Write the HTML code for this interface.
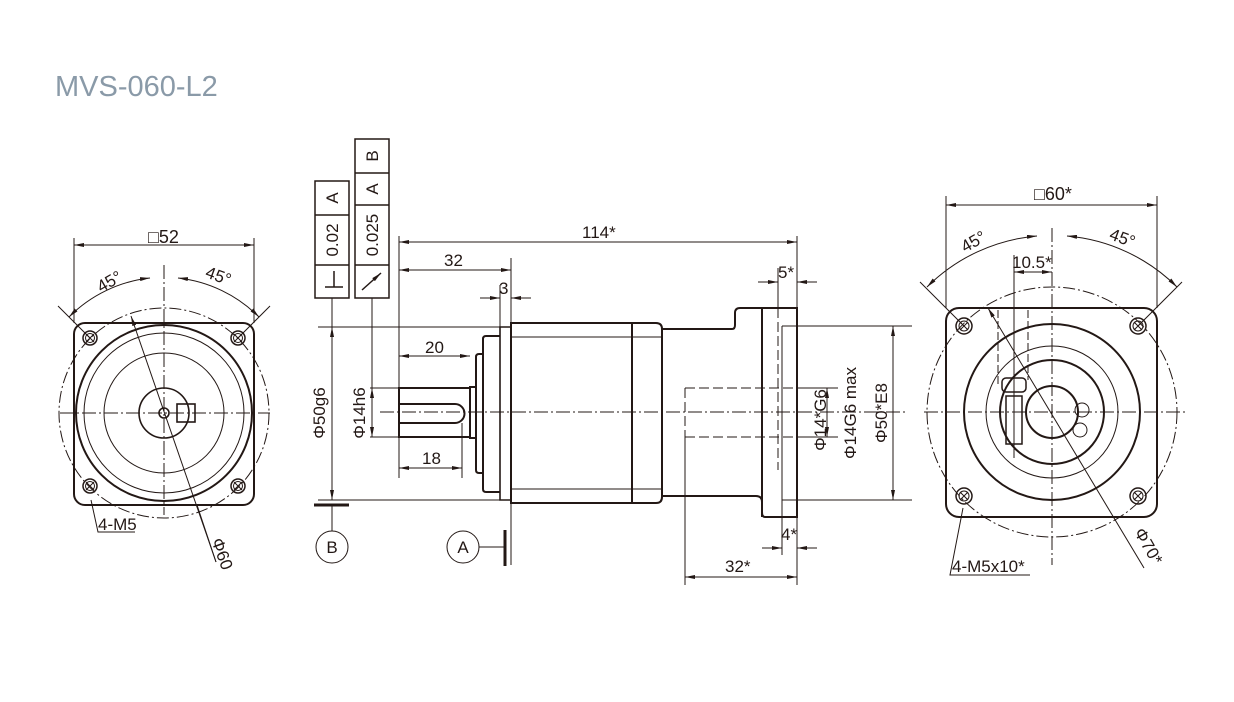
<!DOCTYPE html>
<html><head><meta charset="utf-8"><style>
html,body{margin:0;padding:0;background:#fff;width:1234px;height:702px;overflow:hidden}
svg{position:absolute;left:0;top:0}
text{font-family:"Liberation Sans Narrow","Liberation Sans",sans-serif;fill:#231815}
</style></head><body>
<svg width="1234" height="702" viewBox="0 0 1234 702">
<defs>
<marker id="a" viewBox="0 0 10 4" refX="10" refY="2" markerWidth="10" markerHeight="4" orient="auto-start-reverse" markerUnits="userSpaceOnUse"><path d="M0,0L10,2L0,4z" fill="#231815"/></marker>
</defs>
<text x="55" y="96" style="font-family:'Liberation Sans',sans-serif;font-size:29px;fill:#8a9aa8">MVS-060-L2</text>

<g fill="none" stroke="#231815" stroke-width="1">
<!-- LEFT VIEW -->
<rect x="74" y="323" width="180" height="182" rx="11" stroke-width="2"/>
<circle cx="164" cy="413" r="88" stroke-width="2"/>
<circle cx="164" cy="413" r="80"/>
<circle cx="164" cy="413" r="60"/>
<circle cx="164" cy="413" r="25" stroke-width="1.6"/>
<circle cx="164" cy="413" r="5" stroke-width="1.6"/>
<rect x="177" y="404" width="18" height="18" stroke-width="1.6"/>
<circle cx="164" cy="413" r="105" stroke-dasharray="12,3,2,3"/>
<g stroke-width="1.5">
<circle cx="90" cy="338" r="7"/><circle cx="238" cy="338" r="7"/><circle cx="90" cy="486" r="7"/><circle cx="238" cy="486" r="7"/>
</g>
<circle cx="90" cy="338" r="4.5"/><circle cx="238" cy="338" r="4.5"/><circle cx="90" cy="486" r="4.5"/><circle cx="238" cy="486" r="4.5"/>
<path d="M86,334l8,8M94,334l-8,8M234,334l8,8M242,334l-8,8M86,482l8,8M94,482l-8,8M234,482l8,8M242,482l-8,8"/>
<path d="M60,413H270M164,265V515" stroke-dasharray="14,3,2,3"/>
<path d="M74,323V238M254,323V238"/>
<path d="M74,245H254" marker-start="url(#a)" marker-end="url(#a)"/>
<path d="M69,317A135,135 0 0 1 150,278" marker-start="url(#a)" marker-end="url(#a)"/>
<path d="M178,278A135,135 0 0 1 259,317" marker-start="url(#a)" marker-end="url(#a)"/>
<path d="M90,338L58,306M238,338L270,306"/>
<path d="M131,316L216,562" marker-start="url(#a)"/>
<path d="M197,505L216,562" />
<path d="M91,500L98,532H135"/>

<!-- MIDDLE VIEW -->
<g stroke-width="2">
<path d="M511,323H656Q662,323 662,329V497Q662,503 656,503H511Z"/>
<path d="M632,323V503"/>
<path d="M511,327V500H500V327Z" stroke-width="1.6"/>
<path d="M500,336H486Q483,336 483,339V489Q483,492 486,492H500"/>
<path d="M483,354H479Q476,354 476,357V470Q476,473 479,473H483"/>
<path d="M476,387H470V438H476"/>
<path d="M470,388H399V437H470"/>
<path d="M400,404H455A9.5,9.5 0 0 1 455,423H400"/>
<path d="M662,329H732Q735,329 735,325V313Q735,308 740,308H797V517H765Q762,517 762,512V502Q762,496 756,496H662"/>
<path d="M762,308V517"/>
</g>
<path d="M511,337H632M511,489H632M632,337H662M632,489H662"/>
<path d="M782,326H797M782,500H797M782,326V500"/>
<path d="M778,308V470" stroke-dasharray="10,4"/>
<path d="M685,388H797M685,437H797M685,388V437" stroke-dasharray="10,4"/>
<path d="M380,412H905" stroke-dasharray="14,3,2,3"/>
<!-- dims -->
<path d="M399,236V388M797,236V308M511,258V565M500,285V327M685,437V585M797,517V585M778,268V308M782,500V555"/>
<path d="M399,242H797" marker-start="url(#a)" marker-end="url(#a)"/>
<path d="M399,270H511" marker-start="url(#a)" marker-end="url(#a)"/>
<path d="M480,298H500" marker-end="url(#a)"/><path d="M531,298H511" marker-end="url(#a)"/>
<path d="M758,282H778" marker-end="url(#a)"/><path d="M817,282H797" marker-end="url(#a)"/>
<path d="M762,548H782" marker-end="url(#a)"/><path d="M817,548H797" marker-end="url(#a)"/>
<path d="M685,577H797" marker-start="url(#a)" marker-end="url(#a)"/>
<path d="M399,356H470" marker-start="url(#a)" marker-end="url(#a)"/>
<path d="M399,437V478M462,423V478"/>
<path d="M399,468H462" marker-start="url(#a)" marker-end="url(#a)"/>
<path d="M797,326H912M797,500H912"/>
<path d="M893,326V500" marker-start="url(#a)" marker-end="url(#a)"/>
<path d="M797,388H838M797,437H838"/>
<path d="M827,388V437" marker-start="url(#a)" marker-end="url(#a)"/>
<path d="M318,327H500M318,500H500"/>
<path d="M332,298V500" marker-end="url(#a)"/>
<path d="M332,327V500" marker-start="url(#a)"/>
<path d="M370,388H399M370,437H399"/>
<path d="M372,298V437" marker-end="url(#a)"/>
<path d="M372,388V437" marker-start="url(#a)"/>
<!-- FCF -->
<rect x="315" y="181" width="34" height="117" stroke-width="1.5"/>
<path d="M315,215H349M315,265H349" stroke-width="1.5"/>
<rect x="355" y="139" width="34" height="159" stroke-width="1.5"/>
<path d="M355,173H389M355,205H389M355,265H389" stroke-width="1.5"/>
<path d="M325,287H343M334,287V271" stroke-width="1.5"/>
<path d="M362,290L381,273" stroke-width="1.5" marker-end="url(#a)"/>
<!-- datums -->
<path d="M314,505H349M505,530V566" stroke-width="3"/>
<path d="M332,505V531M479,547H505"/>
<circle cx="332" cy="547" r="16"/>
<circle cx="463" cy="547" r="16"/>

<!-- RIGHT VIEW -->
<rect x="946" y="308" width="211" height="209" rx="13" stroke-width="2"/>
<circle cx="1052" cy="412" r="88" stroke-width="2"/>
<circle cx="1052" cy="412" r="66"/>
<circle cx="1052" cy="412" r="52" stroke-width="2"/>
<circle cx="1052" cy="412" r="26" stroke-width="2"/>
<circle cx="1082" cy="410" r="7"/><circle cx="1080" cy="430" r="7"/>
<circle cx="1052" cy="412" r="125" stroke-dasharray="12,3,2,3"/>
<g stroke-width="1.5"><circle cx="964" cy="326" r="8"/><circle cx="1138" cy="326" r="8"/><circle cx="964" cy="496" r="8"/><circle cx="1138" cy="496" r="8"/></g>
<circle cx="964" cy="326" r="5"/><circle cx="1138" cy="326" r="5"/><circle cx="964" cy="496" r="5"/><circle cx="1138" cy="496" r="5"/>
<path d="M960,322l8,8M968,322l-8,8M1134,322l8,8M1142,322l-8,8M960,492l8,8M968,492l-8,8M1134,492l8,8M1142,492l-8,8"/>
<path d="M924,412H1185M1052,228V565" stroke-dasharray="14,3,2,3"/>
<path d="M998,310V385M1028,310V380" stroke-dasharray="8,3"/>
<rect x="1006" y="396" width="16" height="48" stroke-width="1.5"/>
<rect x="1002" y="378" width="24" height="14" rx="4" stroke-width="1.5"/>
<path d="M1014,255V458"/>
<path d="M946,308V196M1157,308V196"/>
<path d="M946,205H1157" marker-start="url(#a)" marker-end="url(#a)"/>
<path d="M1014,272H1052" marker-start="url(#a)" marker-end="url(#a)"/>
<path d="M927,287A177,177 0 0 1 1037,236" marker-start="url(#a)" marker-end="url(#a)"/>
<path d="M1067,236A177,177 0 0 1 1177,287" marker-start="url(#a)" marker-end="url(#a)"/>
<path d="M964,326L920,282M1138,326L1182,282"/>
<path d="M988,308L1144,568" marker-start="url(#a)"/>
<path d="M963,508L950,575H1030" />
</g>

<g font-size="17">
<text x="148" y="243" font-size="18">□52</text>
<text x="96" y="290" transform="rotate(-30 104 282)">45°</text>
<text x="206" y="280" transform="rotate(20 214 274)">45°</text>
<text x="98" y="530">4-M5</text>
<text x="206" y="548" transform="rotate(70 214 548)">Φ60</text>
<text x="582" y="238">114*</text>
<text x="444" y="266">32</text>
<text x="499" y="294">3</text>
<text x="425" y="353">20</text>
<text x="422" y="464">18</text>
<text x="778" y="278">5*</text>
<text x="781" y="540">4*</text>
<text x="725" y="572">32*</text>
<text x="325" y="413" transform="rotate(-90 325 413)" text-anchor="middle">Φ50g6</text>
<text x="365" y="413" transform="rotate(-90 365 413)" text-anchor="middle">Φ14h6</text>
<text x="826" y="420" transform="rotate(-90 826 420)" text-anchor="middle">Φ14*G6</text>
<text x="856" y="413" transform="rotate(-90 856 413)" text-anchor="middle">Φ14G6 max</text>
<text x="887" y="413" transform="rotate(-90 887 413)" text-anchor="middle">Φ50*E8</text>
<text x="338" y="198" transform="rotate(-90 338 198)" text-anchor="middle">A</text>
<text x="338" y="240" transform="rotate(-90 338 240)" text-anchor="middle">0.02</text>
<text x="378" y="156" transform="rotate(-90 378 156)" text-anchor="middle">B</text>
<text x="378" y="189" transform="rotate(-90 378 189)" text-anchor="middle">A</text>
<text x="378" y="235" transform="rotate(-90 378 235)" text-anchor="middle">0.025</text>
<text x="332" y="553" text-anchor="middle">B</text>
<text x="463" y="553" text-anchor="middle">A</text>
<text x="1034" y="200" font-size="18">□60*</text>
<text x="960" y="250" transform="rotate(-30 968 242)">45°</text>
<text x="1110" y="242" transform="rotate(20 1118 236)">45°</text>
<text x="1012" y="268">10.5*</text>
<text x="952" y="572">4-M5x10*</text>
<text x="1128" y="538" transform="rotate(60 1136 540)">Φ70*</text>
</g>
</svg>
</body></html>
